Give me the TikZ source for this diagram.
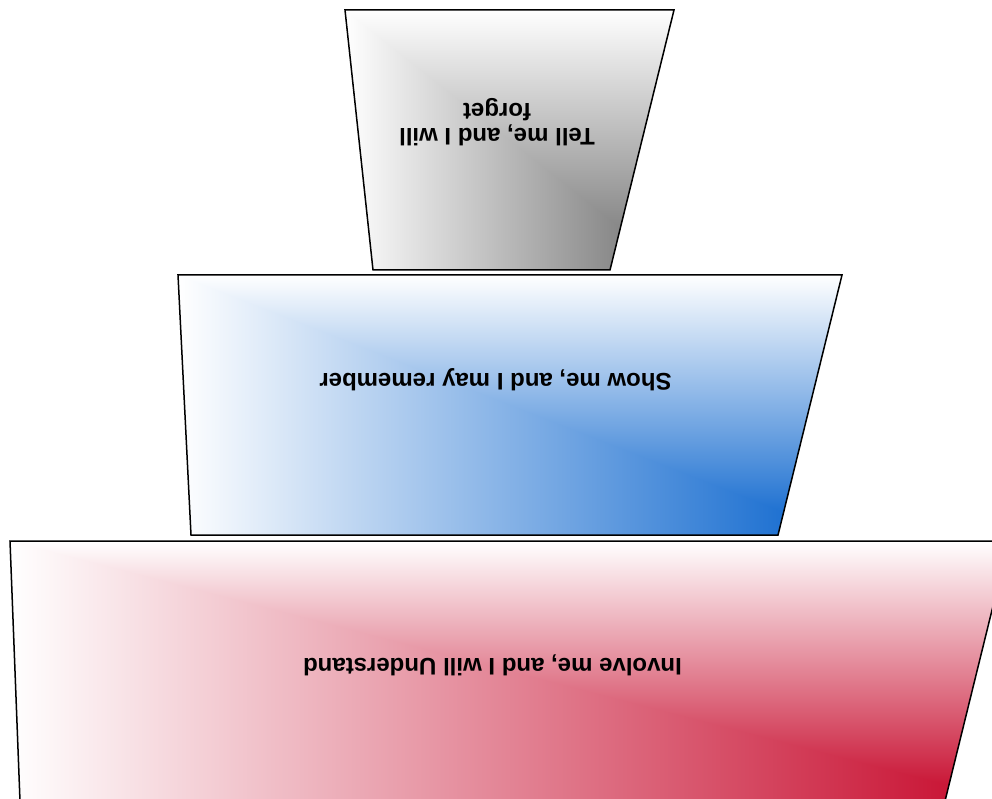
\documentclass[tikz,border=0pt]{standalone}
\usepackage{fontspec}
\setmainfont{Liberation Sans}
\definecolor{greyC}{RGB}{112,112,112}
\definecolor{blueC}{RGB}{10,100,205}
\definecolor{redC}{RGB}{198,8,42}
\begin{document}
\begin{tikzpicture}[x=1pt,y=-1pt,
  tier/.style={draw=black, line width=1.5pt, line join=miter},
  lbl/.style={rotate=180, font=\bfseries\fontsize{24}{25}\selectfont, text=black, inner sep=0pt, align=center}]
\path[use as bounding box] (0,0) rectangle (992,799);
\clip (0,0) rectangle (992,799);

% grey tier
\coordinate (g1) at (345,10); \coordinate (g2) at (674,10);
\coordinate (g3) at (610,270); \coordinate (g4) at (373,270);
\begin{scope}
  \clip (g1) -- (g2) -- (g3) -- (g4) -- cycle;
  \shade[left color=white, right color=greyC] (345,10) rectangle (674,270);
  \shade[top color=white, bottom color=greyC] (345,10) -- (674,10) -- (674,270) -- cycle;
\end{scope}
\draw[tier] (g1) -- (g2) -- (g3) -- (g4) -- cycle;

% blue tier
\coordinate (b1) at (178,275); \coordinate (b2) at (842,275);
\coordinate (b3) at (778,535); \coordinate (b4) at (191,535);
\begin{scope}
  \clip (b1) -- (b2) -- (b3) -- (b4) -- cycle;
  \shade[left color=white, right color=blueC] (178,275) rectangle (842,535);
  \shade[top color=white, bottom color=blueC] (178,275) -- (842,275) -- (842,535) -- cycle;
\end{scope}
\draw[tier] (b1) -- (b2) -- (b3) -- (b4) -- cycle;

% red tier
\coordinate (r1) at (10,541); \coordinate (r2) at (1009,541);
\coordinate (r3) at (945,801); \coordinate (r4) at (20,801);
\begin{scope}
  \clip (r1) -- (r2) -- (r3) -- (r4) -- cycle;
  \shade[left color=white, right color=redC] (10,541) rectangle (1009,801);
  \shade[top color=white, bottom color=redC] (10,541) -- (1009,541) -- (1009,801) -- cycle;
\end{scope}
\draw[tier] (r1) -- (r2) -- (r3) -- (r4) -- cycle;

\node[lbl, anchor=center] (tell) at (497,122) {Tell me, and I will\\forget};
\node[lbl, anchor=base] (show) at (495.5,373) {Show me, and I may remember};
\node[lbl, anchor=base] (involve) at (492.5,658) {Involve me, and I will Understand};
\end{tikzpicture}
\end{document}
